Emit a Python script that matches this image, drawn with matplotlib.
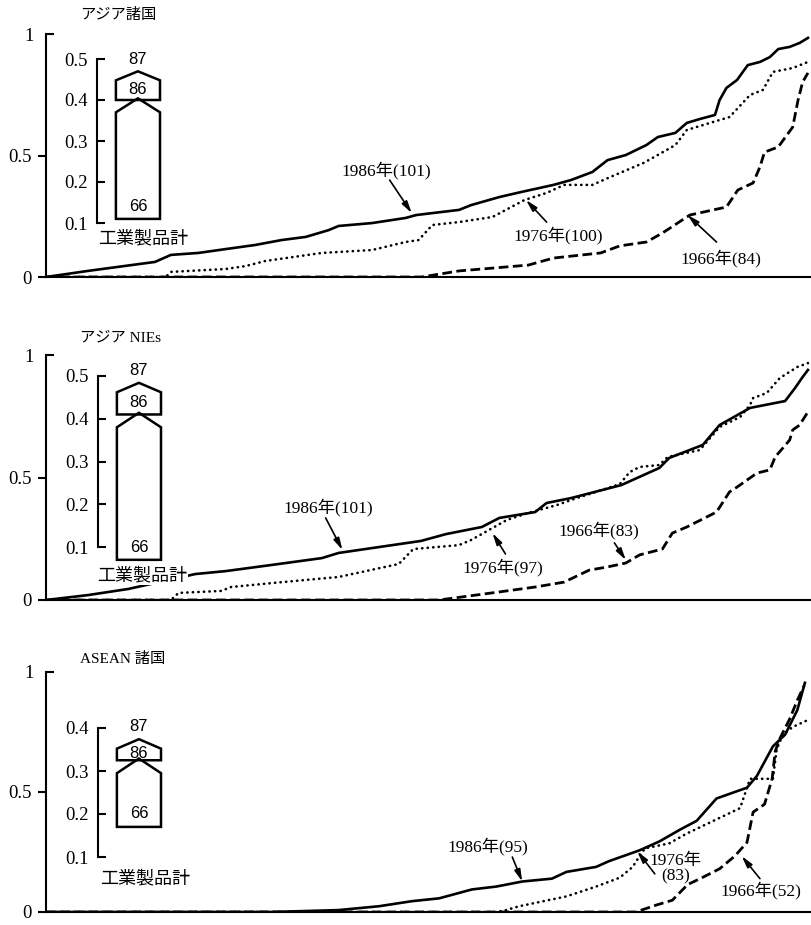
import matplotlib
matplotlib.use('Agg')
import matplotlib.pyplot as plt
from matplotlib.patches import Polygon

plt.rcParams['font.family'] = ['Liberation Serif', 'Noto Sans CJK JP']

W, H = 811, 925  # 出力サイズ(px)

titles = ['アジア諸国', 'アジア NIEs', 'ASEAN 諸国']
years = ['1986', '1976', '1966']

# --- アジア諸国 ---
asia_x_1986 = [0, 0.055, 0.112, 0.143, 0.164, 0.2, 0.236, 0.275, 0.309, 0.341, 0.371, 0.384, 0.428, 0.472,
               0.486, 0.507, 0.542, 0.558, 0.595, 0.624, 0.666, 0.689, 0.717, 0.737, 0.761, 0.788, 0.803,
               0.826, 0.841, 0.858, 0.878, 0.884, 0.893, 0.907, 0.921, 0.937, 0.95, 0.961, 0.976, 0.989, 1.0]
asia_y_1986 = [0, 0.025, 0.049, 0.062, 0.091, 0.099, 0.115, 0.132, 0.152, 0.165, 0.193, 0.21, 0.222, 0.243,
               0.255, 0.263, 0.276, 0.296, 0.329, 0.35, 0.379, 0.399, 0.432, 0.481, 0.502, 0.543, 0.576,
               0.593, 0.634, 0.65, 0.667, 0.728, 0.778, 0.811, 0.872, 0.885, 0.905, 0.938, 0.947, 0.963, 0.984]
asia_x_1976 = [0, 0.157, 0.164, 0.236, 0.262, 0.288, 0.362, 0.428, 0.472, 0.489, 0.507, 0.542, 0.586, 0.628,
               0.657, 0.68, 0.717, 0.741, 0.784, 0.796, 0.826, 0.841, 0.884, 0.897, 0.924, 0.941, 0.954,
               0.98, 1.0]
asia_y_1976 = [0, 0, 0.021, 0.033, 0.045, 0.066, 0.099, 0.111, 0.144, 0.152, 0.214, 0.226, 0.247, 0.317,
               0.346, 0.379, 0.379, 0.412, 0.469, 0.49, 0.543, 0.605, 0.646, 0.658, 0.749, 0.77, 0.844,
               0.86, 0.885]
asia_x_1966 = [0, 0.493, 0.542, 0.633, 0.666, 0.728, 0.753, 0.788, 0.809, 0.845, 0.893, 0.908, 0.928, 0.937,
               0.943, 0.961, 0.98, 0.987, 0.993, 1.0]
asia_y_1966 = [0, 0, 0.025, 0.049, 0.078, 0.099, 0.128, 0.144, 0.181, 0.255, 0.288, 0.358, 0.387, 0.453,
               0.514, 0.535, 0.617, 0.728, 0.802, 0.84]

# --- アジア NIEs ---
nies_x_1986 = [0, 0.055, 0.108, 0.196, 0.236, 0.296, 0.362, 0.384, 0.428, 0.492, 0.525, 0.572, 0.595, 0.642,
               0.657, 0.689, 0.755, 0.805, 0.818, 0.862, 0.884, 0.924, 0.97, 0.983, 0.993, 1.0]
nies_y_1986 = [0, 0.02, 0.045, 0.106, 0.118, 0.143, 0.171, 0.192, 0.212, 0.241, 0.269, 0.298, 0.335, 0.359,
               0.396, 0.416, 0.469, 0.539, 0.58, 0.633, 0.714, 0.784, 0.812, 0.865, 0.91, 0.939]
nies_x_1976 = [0, 0.164, 0.174, 0.23, 0.243, 0.296, 0.384, 0.463, 0.482, 0.542, 0.558, 0.605, 0.633, 0.671,
               0.689, 0.753, 0.766, 0.779, 0.805, 0.816, 0.858, 0.884, 0.911, 0.924, 0.928, 0.946, 0.963,
               0.986, 1.0]
nies_y_1976 = [0, 0, 0.029, 0.037, 0.053, 0.069, 0.094, 0.147, 0.208, 0.224, 0.245, 0.327, 0.355, 0.388,
               0.408, 0.473, 0.522, 0.543, 0.551, 0.584, 0.612, 0.706, 0.747, 0.796, 0.824, 0.845, 0.906,
               0.951, 0.967]
nies_x_1966 = [0, 0.516, 0.595, 0.642, 0.68, 0.713, 0.737, 0.761, 0.779, 0.809, 0.822, 0.841, 0.88, 0.897,
               0.907, 0.933, 0.95, 0.957, 0.967, 0.976, 0.98, 0.989, 0.999]
nies_y_1966 = [0, 0, 0.033, 0.053, 0.073, 0.122, 0.135, 0.151, 0.184, 0.208, 0.273, 0.298, 0.359, 0.441,
               0.461, 0.518, 0.531, 0.584, 0.62, 0.653, 0.694, 0.714, 0.763]

# --- ASEAN 諸国 ---
asean_x_1986 = [0, 0.296, 0.384, 0.437, 0.48, 0.516, 0.559, 0.591, 0.625, 0.664, 0.683, 0.722, 0.739, 0.779,
                0.805, 0.832, 0.854, 0.88, 0.92, 0.933, 0.954, 0.97, 0.986, 0.996]
asean_y_1986 = [0, 0, 0.008, 0.024, 0.045, 0.057, 0.094, 0.106, 0.127, 0.139, 0.167, 0.188, 0.212, 0.257,
                0.294, 0.343, 0.38, 0.473, 0.518, 0.567, 0.69, 0.739, 0.841, 0.955]
asean_x_1976 = [0, 0.591, 0.604, 0.621, 0.683, 0.722, 0.753, 0.77, 0.779, 0.786, 0.818, 0.841, 0.884, 0.911,
                0.92, 0.924, 0.954, 0.959, 0.967, 0.98, 1.0]
asean_y_1976 = [0, 0, 0.008, 0.024, 0.065, 0.106, 0.143, 0.188, 0.233, 0.265, 0.286, 0.327, 0.392, 0.433,
                0.518, 0.555, 0.555, 0.678, 0.739, 0.771, 0.8]
asean_x_1966 = [0, 0.774, 0.801, 0.822, 0.842, 0.861, 0.884, 0.904, 0.92, 0.928, 0.943, 0.953, 0.957, 0.963,
                0.976, 0.986, 0.995]
asean_y_1966 = [0, 0, 0.029, 0.049, 0.114, 0.143, 0.18, 0.233, 0.29, 0.416, 0.449, 0.555, 0.669, 0.722,
                0.804, 0.882, 0.943]

# 凡例ラベル(品目数)
labels = [['1986年(101)', '1976年(100)', '1966年(84)'],
          ['1986年(101)', '1976年(97)', '1966年(83)'],
          ['1986年(95)', '1976年\n(83)', '1966年(52)']]
# 矢印の先, 矢印の根元, 文字の中心
arrow_heads = [[(0.48, 0.263), (0.63, 0.317), (0.842, 0.255)],
               [(0.389, 0.204), (0.586, 0.273), (0.761, 0.163)],
               [(0.625, 0.127), (0.776, 0.253), (0.913, 0.233)]]
arrow_tails = [[(0.451, 0.399), (0.657, 0.226), (0.88, 0.144)],
               [(0.367, 0.335), (0.603, 0.188), (0.746, 0.233)],
               [(0.612, 0.229), (0.799, 0.159), (0.937, 0.139)]]
label_pos = [[(0.447, 0.44), (0.672, 0.173), (0.886, 0.078)],
             [(0.371, 0.376), (0.599, 0.135), (0.726, 0.286)],
             [(0.58, 0.273), (0.826, 0.18), (0.938, 0.09)]]

# 工業製品計 (66, 86, 87年)
total_66 = [0.11, 0.07, 0.17]
total_86 = [0.40, 0.41, 0.325]
total_87 = [0.47, 0.484, 0.374]
inset_ticks = [[0.1, 0.2, 0.3, 0.4, 0.5], [0.1, 0.2, 0.3, 0.4, 0.5], [0.1, 0.2, 0.3, 0.4]]

curves = [[(asia_x_1986, asia_y_1986), (asia_x_1976, asia_y_1976), (asia_x_1966, asia_y_1966)],
          [(nies_x_1986, nies_y_1986), (nies_x_1976, nies_y_1976), (nies_x_1966, nies_y_1966)],
          [(asean_x_1986, asean_y_1986), (asean_x_1976, asean_y_1976), (asean_x_1966, asean_y_1966)]]

# レイアウト(px): 本体 (left, top, right, bottom), 小図 (x, top, bottom)
main_box = [(46, 34, 811, 277), (46, 355, 811, 600), (46, 672, 811, 912)]
inset_box = [(97, 59, 223), (98, 376, 547), (98, 728, 857)]
title_pos = [(80, 15), (80, 338), (80, 659)]
kogyo_pos = [(143, 238), (142, 575), (145, 878)]

line_styles = [dict(ls='-', lw=1.9),
               dict(ls=(0, (0.1, 2.0)), lw=1.9, dash_capstyle='round'),
               dict(ls=(0, (3.5, 1.6)), lw=2.0)]


def rect(l, t, r, b):
    return [l / W, 1 - b / H, (r - l) / W, (b - t) / H]


fig = plt.figure(figsize=(W / 100, H / 100), dpi=100)

for i in range(3):
    ax = fig.add_axes(rect(*main_box[i]))
    for (xs, ys), st in zip(curves[i], line_styles):
        ax.plot(xs, ys, color='black', **st)
    ax.set_xlim(0, 1.004)
    ax.set_ylim(0, 1)
    for s in ['top', 'right']:
        ax.spines[s].set_visible(False)
    for s in ['left', 'bottom']:
        ax.spines[s].set_linewidth(1.5)
    ax.set_xticks([])
    ax.set_yticks([0, 0.5])
    ax.set_yticklabels(['0', '0.5'])
    ax.set_yticks([1], minor=True)
    ax.set_yticklabels(['1'], minor=True)
    ax.tick_params(axis='y', which='major', direction='out', length=6, width=1.5, pad=4, labelsize=13.5)
    ax.tick_params(axis='y', which='minor', direction='in', length=6, width=1.5, pad=9, labelsize=13.5)

    for lab, hd, tl, tp in zip(labels[i], arrow_heads[i], arrow_tails[i], label_pos[i]):
        ax.annotate('', xy=hd, xytext=tl,
                    arrowprops=dict(arrowstyle='-|>,head_length=0.7,head_width=0.18',
                                    color='black', lw=1.2, shrinkA=0, shrinkB=0))
        ax.text(tp[0], tp[1], lab, ha='center', va='center', fontsize=12.5, linespacing=1.0)

    fig.text(title_pos[i][0] / W, 1 - title_pos[i][1] / H, titles[i], fontsize=11,
             ha='left', va='center')

    # 小図: 工業製品計
    xa, ytop, ybot = inset_box[i]
    tk = inset_ticks[i]
    iax = fig.add_axes(rect(xa, ytop, xa + 70, ybot))
    iax.set_ylim(tk[0], tk[-1])
    iax.set_xlim(0, 1)
    iax.patch.set_visible(False)
    for s in ['top', 'right', 'bottom']:
        iax.spines[s].set_visible(False)
    iax.spines['left'].set_linewidth(1.5)
    iax.set_xticks([])
    iax.set_yticks(tk)
    iax.set_yticklabels([f'{t:.1f}' for t in tk])
    iax.tick_params(axis='y', direction='in', length=6, width=1.5, pad=7, labelsize=13.5)

    v66, v86, v87 = total_66[i], total_86[i], total_87[i]
    xl, xr = 0.27, 0.9
    xc = (xl + xr) / 2
    big = Polygon([(xl, v66), (xr, v66), (xr, v86 - 0.03), (xc, v86 + 0.004), (xl, v86 - 0.03)],
                  closed=True, fill=False, lw=1.8, ec='black', clip_on=False)
    small = Polygon([(xl, v86), (xr, v86), (xr, v87 - 0.022), (xc, v87), (xl, v87 - 0.022)],
                    closed=True, fill=False, lw=1.8, ec='black', clip_on=False)
    iax.add_patch(big)
    iax.add_patch(small)
    numfont = ['Liberation Sans', 'DejaVu Sans']
    iax.text(xc, v87 + 0.03, '87', ha='center', va='center', fontsize=12, family=numfont, clip_on=False)
    iax.text(xc, (v86 + v87 - 0.022) / 2 + 0.002, '86', ha='center', va='center', fontsize=12,
             family=numfont, clip_on=False)
    iax.text(xc, v66 + 0.03, '66', ha='center', va='center', fontsize=12, family=numfont, clip_on=False)

    fig.text(kogyo_pos[i][0] / W, 1 - kogyo_pos[i][1] / H, '工業製品計', fontsize=13,
             ha='center', va='center', family=['Noto Sans CJK JP'],
             bbox=dict(facecolor='white', edgecolor='none', pad=1), zorder=5)

fig.savefig('out.png', dpi=100)
